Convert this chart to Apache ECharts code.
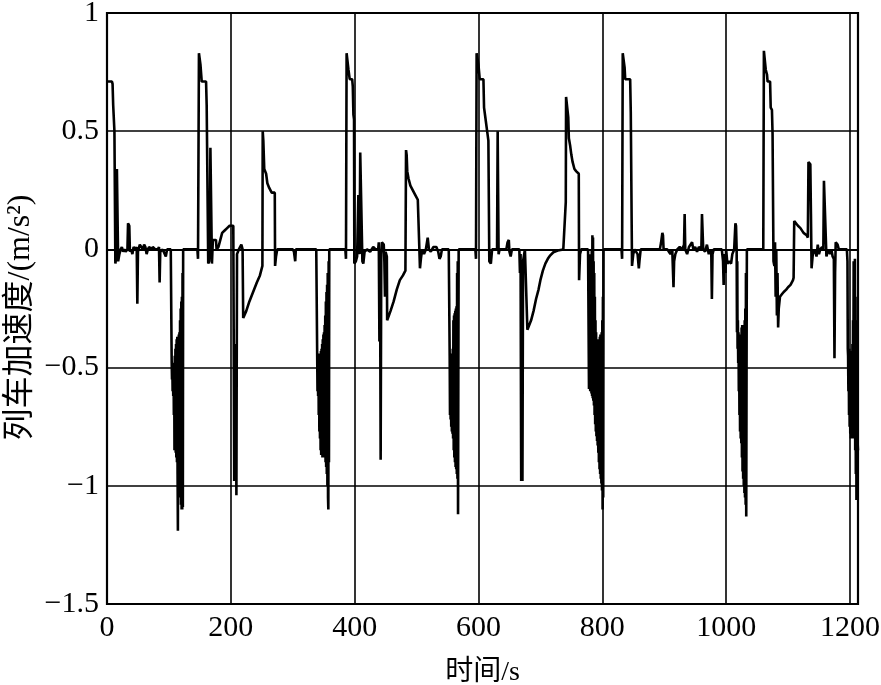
<!DOCTYPE html>
<html><head><meta charset="utf-8">
<script src="https://cdn.jsdelivr.net/npm/echarts@6/dist/echarts.min.js"></script>
<style>html,body{margin:0;padding:0;background:#fff}#c{width:881px;height:685px}</style>
</head><body><div id="c"></div>
<script>
var xTicks = [0, 200, 400, 600, 800, 1000, 1200];
var yTicks = [-1.5, -1, -0.5, 0, 0.5, 1];
var xName = '时间/s';
var yName = '列车加速度/(m/s²)';

// [time (s), acceleration (m/s^2)], per stretch of the run
var run1 = [[0,0.71],[8,0.71],[9,0.70],[10,0.61],[11.5,0.61],[12,0.50],[13,0.50],[13.5,-0.06],[15,-0.03],[16,0.34],[17.5,0.34],[18,-0.05],[20,-0.02],[22,0.00],[24,0.01],[26,-0.01],[28,0.00],[30,-0.01],[33,0.00],[34,0.11],[36,0.10],[37,-0.01],[39,0.00],[41,-0.02],[43,0.01],[46,0.00],[48,0.01],[49,-0.23],[50,-0.01],[53,0.02],[56,0.02],[58,0.00],[60,0.02],[62,0.01],[64,-0.02],[66,0.00],[68,0.01],[72,0.00],[74,0.01],[78,0.00],[82,0.00],[84,0.01],[85,-0.14],[86,-0.01],[90,0.00],[93,0.00],[95,-0.03],[97,0.00],[103,0.00]];
var brake1 = [[104,0.00],[104.5,-0.48],[105,-0.55],[105.5,-0.49],[106,-0.60],[106.5,-0.50],[107,-0.62],[107.5,-0.50],[108,-0.70],[108.5,-0.48],[109,-0.85],[109.5,-0.45],[110,-0.84],[110.5,-0.42],[111,-0.86],[111.5,-0.40],[112,-0.88],[112.5,-0.38],[113,-0.90],[113.5,-0.37],[114,-0.95],[114.5,-1.19],[115,-0.38],[115.5,-0.98],[116,-0.36],[116.5,-1.00],[117,-0.35],[117.5,-1.02],[118,-0.30],[118.5,-1.05],[119,-0.25],[119.5,-1.08],[120,-0.22],[120.5,-1.10],[121,-0.20],[121.5,-1.10],[122,-0.10],[122.5,-1.09],[123,0.00]];
var run2 = [[146,0.00],[147,-0.04],[148,-0.04],[148.5,0.83],[150,0.83],[151,0.78],[153,0.71],[160,0.71],[161,0.61],[163,0.61],[163.5,-0.06],[165,-0.05],[166,0.00],[167,0.43],[169,0.43],[169.5,-0.06],[171,0.04],[176,0.04],[177,0.00],[180,0.01],[183,0.04],[186,0.07],[190,0.08],[194,0.09],[198,0.10],[204,0.10],[205,0.10],[205.5,-0.98],[206.5,-0.50],[207,-0.98],[208,-0.40],[209,-1.04],[210,-0.02],[213,0.00],[215,0.00],[217,0.02],[219,0.00],
  [220,-0.29],[225,-0.26],[230,-0.22],[236,-0.18],[242,-0.14],[247,-0.11],[251,-0.07],[251.5,0.50],[252.5,0.46],[254,0.34],[257,0.32],[259,0.28],[262,0.26],[266,0.24],[271,0.24],[271.5,-0.07],[273,-0.03],[275,0.00],[300,0.00],[302,-0.01],[304,-0.05],[305,0.00],[338,0.00]];
var brake2 = [[339.5,0.00],[340,-0.60],[340.5,-0.45],[341,-0.62],[341.5,-0.45],[342,-0.70],[342.5,-0.44],[343,-0.77],[343.5,-0.44],[344,-0.80],[344.5,-0.44],[345,-0.85],[345.5,-0.43],[346,-0.87],[346.5,-0.42],[347,-0.87],[347.5,-0.40],[348,-0.88],[348.5,-0.38],[349,-0.88],[349.5,-0.36],[350,-0.86],[350.5,-0.35],[351,-0.87],[351.5,-0.32],[352,-0.88],[352.5,-0.28],[353,-0.90],[353.5,-0.22],[354,-0.92],[354.5,-0.18],[355,-0.95],[355.5,-0.15],[356,-1.00],[356.5,-0.10],[357,-1.05],[357.5,-1.10],[358,-0.05],[358.5,-0.90],[359,0.00]];
var run3 = [[385,0.00],[386,-0.04],[387,0.83],[389,0.83],[390,0.76],[392,0.72],[396,0.72],[397,0.69],[398,0.57],[399,0.55],[399.5,-0.06],[402,-0.05],[404,-0.03],[406,0.23],[407.5,0.23],[408,-0.02],[409,0.41],[412,0.41],[412.5,-0.05],[414,-0.06],[416,-0.01],[420,0.00],[425,-0.01],[430,0.01],[434,0.00],[438,0.00],[439,0.03],[440,-0.39],[441,-0.05],[442,-0.89],[443,-0.02],[444,0.03],[447,0.02],[448,-0.05],[449,-0.20],[450,-0.01],[452,-0.03],
  [452.5,-0.30],[458,-0.26],[463,-0.22],[468,-0.17],[473,-0.13],[478,-0.11],[482,-0.09],[483,0.42],[484,0.40],[485,0.33],[487,0.30],[490,0.27],[494,0.25],[498,0.23],[502,0.21],[505,0.21],[505.5,-0.08],[507,-0.04],[509,0.00],[512,-0.02],[515,0.00],[518,0.05],[520,0.00],[523,-0.01],[527,0.01],[532,0.01],[535,-0.01],[537,-0.04],[539,-0.03],[541,0.00],[552,0.00]];
var brake3 = [[553,0.00],[553.5,-0.45],[554,-0.70],[554.5,-0.46],[555,-0.72],[555.5,-0.46],[556,-0.75],[556.5,-0.45],[557,-0.77],[557.5,-0.44],[558,-0.78],[558.5,-0.42],[559,-0.80],[559.5,-0.30],[560,-0.85],[560.5,-0.28],[561,-0.88],[561.5,-0.27],[562,-0.90],[562.5,-0.26],[563,-0.92],[563.5,-0.25],[564,-0.93],[564.5,-0.24],[565,-0.95],[565.5,-0.10],[566,-0.97],[566.5,-0.05],[567,-1.12],[567.5,-0.50],[568,0.00]];
var run4 = [[595,0.00],[596,-0.04],[597,0.83],[599,0.83],[600,0.78],[602,0.72],[608,0.72],[609,0.60],[611,0.56],[614,0.50],[616,0.46],[617,0.46],[617.5,-0.05],[620,-0.06],[622,0.00],[630,0.00],[631,0.50],[632,0.50],[632.5,-0.02],[634,0.00],[645,0.00],[647,0.03],[649,0.04],[650,-0.01],[652,-0.03],[654,0.00],[666,0.00],[667,-0.10],[668,-0.02],[669,-0.98],[670,-0.60],[671,-0.98],[672,-0.05],[675,0.00],[678,0.00],
  [679,-0.34],[681,-0.34],[685,-0.30],[689,-0.26],[693,-0.21],[697,-0.17],[700,-0.13],[704,-0.09],[708,-0.06],[712,-0.04],[716,-0.025],[721,-0.012],[728,-0.005],[737,0.00],
  [740,0.00],[741,0.20],[741.5,0.645],[744,0.645],[745,0.56],[746,0.47],[748,0.44],[750,0.40],[752,0.37],[755,0.34],[758,0.33],[762,0.32],[762.5,-0.13],[764,-0.02],[766,0.00],[777,0.00]];
var brake4 = [[778,0.00],[778.5,-0.59],[779,-0.02],[779.5,-0.59],[780,-0.02],[780.5,-0.60],[781,-0.02],[781.5,-0.60],[782,-0.02],[782.5,-0.61],[783,0.00],[783.5,-0.62],[784,0.06],[784.5,-0.63],[785,0.05],[785.5,-0.64],[786,-0.05],[786.5,-0.66],[787,-0.10],[787.5,-0.70],[788,-0.20],[788.5,-0.74],[789,-0.30],[789.5,-0.77],[790,-0.35],[790.5,-0.79],[791,-0.38],[791.5,-0.81],[792,-0.38],[792.5,-0.83],[793,-0.38],[793.5,-0.86],[794,-0.38],[794.5,-0.90],[795,-0.38],[795.5,-0.93],[796,-0.37],[796.5,-0.95],[797,-0.36],[797.5,-0.97],[798,-0.36],[798.5,-0.99],[799,-0.35],[799.5,-1.02],[800,-0.30],[800.5,-1.10],[801,-0.20],[801.5,-1.05],[802,0.00]];
var run5 = [[831,0.00],[832,-0.04],[833,0.83],[835,0.83],[836,0.77],[837,0.72],[845,0.72],[846,0.58],[847,0.58],[847.5,0.09],[848,-0.07],[850,-0.02],[852,0.00],[855,0.00],[857,-0.02],[859,-0.08],[860,-0.05],[862,0.00],[893,0.00],[895,0.03],[897,0.07],[898,0.06],[899,0.00],[905,0.00],[910,-0.02],[913,0.00],[915,-0.16],[916,-0.05],[918,-0.02],[921,0.00],[925,0.01],[929,0.00],[932,0.02],[933,0.15],[934,0.00],[937,-0.02],[940,0.01],[945,0.03],[947,0.00],[950,0.01],[953,-0.01],[956,0.01],[960,0.00],[961,0.15],[962.5,0.15],[963,0.00],[966,-0.01],[969,0.02],[972,-0.02],[975,0.00],[976,-0.01],[977,-0.21],[978,-0.02],[980,0.00],[993,0.00],[995,-0.05],[996,-0.15],[997,-0.02],[999,-0.10],[1000,0.00],[1002,-0.06],[1005,-0.05],[1008,-0.06],[1010,-0.02],[1013,0.00],[1015,0.11],[1016,0.10],[1017,0.00]];
var brake5 = [[1017.5,-0.35],[1018,-0.05],[1018.5,-0.42],[1019,-0.30],[1019.5,-0.48],[1020,-0.35],[1020.5,-0.60],[1021,-0.40],[1021.5,-0.70],[1022,-0.42],[1022.5,-0.77],[1023,-0.40],[1023.5,-0.80],[1024,-0.36],[1024.5,-0.82],[1025,-0.33],[1025.5,-0.88],[1026,-0.32],[1026.5,-0.94],[1027,-0.32],[1027.5,-0.97],[1028,-0.32],[1028.5,-1.00],[1029,-0.32],[1029.5,-1.03],[1030,-0.30],[1030.5,-1.05],[1031,-0.25],[1031.5,-1.08],[1032,-0.10],[1032.5,-1.13],[1033,-0.50],[1033.5,0.00]];
var run6 = [[1060,0.00],[1061,0.84],[1063,0.84],[1064,0.76],[1066,0.74],[1067,0.71],[1071,0.71],[1072,0.60],[1074,0.59],[1075,0.49],[1076,0.49],[1076.5,-0.05],[1078,-0.07],[1079,0.03],[1080,-0.20],[1081,0.00],[1082,-0.28],[1083,-0.10],[1084,-0.33],[1085,-0.25],[1087,-0.20],[1090,-0.19],[1093,-0.18],[1097,-0.17],[1100,-0.16],[1104,-0.15],[1108,-0.13],[1109,-0.12],[1110,0.12],[1112,0.12],[1116,0.10],[1120,0.09],[1125,0.07],[1130,0.06],[1132,0.05],[1133,0.37],[1136,0.36],[1137,0.15],[1138,-0.08],[1140,-0.02],[1143,0.00],[1146,-0.03],[1148,0.02],[1150,-0.02],[1152,0.00],[1155,0.01],[1157,0.00],[1158,0.29],[1161,0.29],[1162,-0.03],[1165,0.00],[1168,-0.02],[1170,0.00],[1172,-0.03],[1174,-0.04],[1175,-0.46],[1176,-0.10],[1177,0.03],[1180,0.02],[1182,0.00],[1195,0.00]];
var brake6 = [[1196,-0.05],[1196.5,-0.42],[1197,-0.45],[1197.5,-0.60],[1198,-0.43],[1198.5,-0.70],[1199,-0.42],[1199.5,-0.75],[1200,-0.43],[1200.5,-0.78],[1201,-0.43],[1201.5,-0.80],[1202,-0.45],[1202.5,-0.80],[1203,-0.45],[1203.5,-0.78],[1204,-0.40],[1204.5,-0.80],[1205,-0.30],[1205.5,-0.60],[1206,-0.05],[1206.5,-0.50],[1207,-0.10],[1207.5,-0.70],[1208,-0.04],[1208.5,-0.85],[1209,-0.20],[1209.5,-0.95],[1210,-0.30],[1210.5,-1.06],[1211,-0.40],[1211.5,-0.90],[1212,-0.80],[1213,-0.85]];

var seriesData = [].concat(run1, brake1, run2, brake2, run3, brake3, run4, brake4, run5, brake5, run6, brake6);

var serif = '"Liberation Serif","Noto Sans CJK SC",serif';
function fmtY(v){ return v < 0 ? '\u2212' + String(Math.abs(v)) : String(v); }

var chart = echarts.init(document.getElementById('c'), null, {renderer:'canvas'});
chart.setOption({
  animation: false,
  backgroundColor: '#fff',
  grid: {left:107, top:13, right:23, bottom:81, containLabel:false, outerBoundsMode:'none',
         show:true, borderColor:'#000', borderWidth:2.2, backgroundColor:'transparent'},
  xAxis: {
    type:'value', min:xTicks[0], max:1213, interval:200,
    name:xName, nameLocation:'middle', nameGap:55, nameMoveOverlap:false,
    nameTextStyle:{fontFamily:serif, fontSize:28, color:'#000'},
    axisLine:{show:true, lineStyle:{color:'#000', width:2}},
    axisTick:{show:false},
    axisLabel:{fontFamily:serif, fontSize:30, color:'#000', margin:9,
      formatter:function(v){ return xTicks.indexOf(v) >= 0 ? String(v) : ''; }},
    splitLine:{show:true, lineStyle:{color:'#000', width:1.6}}
  },
  yAxis: {
    type:'value', min:yTicks[0], max:yTicks[yTicks.length-1], interval:0.5,
    name:yName, nameLocation:'middle', nameGap:70, nameRotate:90, nameMoveOverlap:false,
    nameTextStyle:{fontFamily:serif, fontSize:32, color:'#000', padding:[0,18,0,0]},
    axisLine:{show:true, lineStyle:{color:'#000', width:2}},
    axisTick:{show:false},
    axisLabel:{fontFamily:serif, fontSize:30, color:'#000', margin:8, formatter:fmtY},
    splitLine:{show:true, lineStyle:{color:'#000', width:1.6}}
  },
  series: [{
    type:'line', data:seriesData, showSymbol:false, symbol:'none',
    lineStyle:{color:'#000', width:2.6}, clip:true
  }]
});
</script>
</body></html>
